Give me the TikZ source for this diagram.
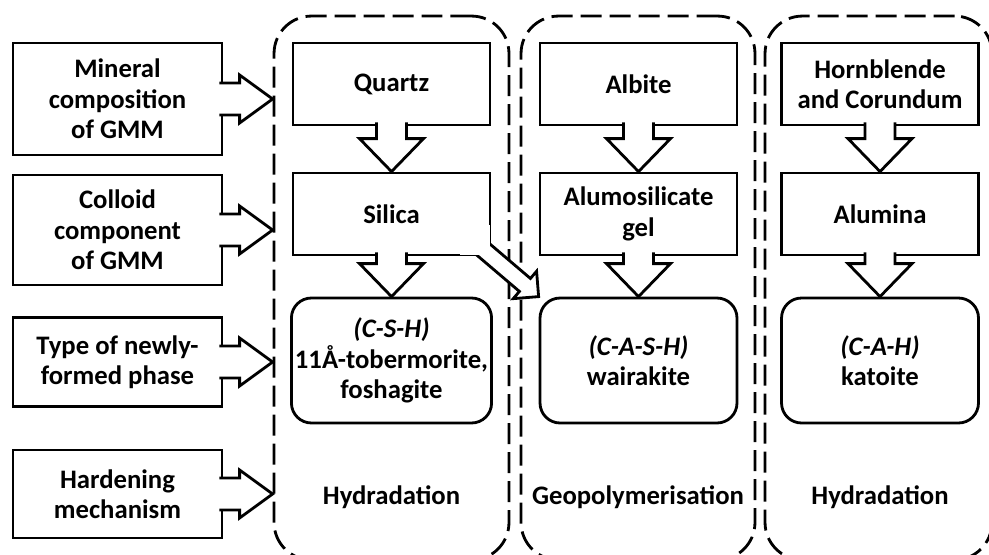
\documentclass[tikz,border=0pt]{standalone}
\usepackage{fontspec}
\setmainfont{Carlito}
\usetikzlibrary{calc}

\newcommand{\gmmfont}{\fontsize{15.2}{17.3}\selectfont\bfseries}
% hollow block arrow: [pull back] from, to, shaft half, head half, head length
\newcommand{\blockarrow}[6][0.08cm]{%
  \coordinate (ba-a) at ($(#2)!-#1!(#3)$);
  \coordinate (ba-c) at ($(#3)!#6!(#2)$);
  \fill[white] ($(ba-a)!#4!90:(#3)$) -- ($(ba-c)!#4!90:(#3)$) -- ($(ba-c)!#5!90:(#3)$) -- (#3)
    -- ($(ba-c)!#5!-90:(#3)$) -- ($(ba-c)!#4!-90:(#3)$) -- ($(ba-a)!#4!-90:(#3)$) -- cycle;
  \draw[arr] ($(ba-a)!#4!90:(#3)$) -- ($(ba-c)!#4!90:(#3)$) -- ($(ba-c)!#5!90:(#3)$) -- (#3)
    -- ($(ba-c)!#5!-90:(#3)$) -- ($(ba-c)!#4!-90:(#3)$) -- ($(ba-a)!#4!-90:(#3)$);
}

\begin{document}
\begin{tikzpicture}[x=0.02cm, y=-0.02cm,
  box/.style={draw, line width=1.6pt, inner sep=2pt, align=center, font=\gmmfont, minimum width=3.94cm, minimum height=1.64cm},
  lbox/.style={box, minimum width=4.18cm},
  phase/.style={box, rounded corners=0.4cm, minimum height=2.5cm},
  region/.style={draw, line width=1.6pt, dash pattern=on 0.42cm off 0.16cm, rounded corners=0.75cm, inner sep=0pt, minimum height=10.88cm},
  arr/.style={line width=1.6pt},
  mech/.style={font=\gmmfont}]
\useasboundingbox (0,0) rectangle (989,554);
\clip (0,0) rectangle (989,554);

% dashed groups
\node[region, minimum width=4.7cm] (hyd1) at (391.5,288) {};
\node[region, minimum width=4.68cm] (geo) at (638,288) {};
\node[region, minimum width=4.54cm] (hyd2) at (878.5,288) {};

% row headers
\node[lbox, minimum height=2.24cm] (mineral) at (117.5,99) {Mineral\\composition\\of GMM};
\node[lbox, minimum height=2.2cm] (colloid) at (117.5,230) {Colloid\\component\\of GMM};
\node[lbox, minimum height=1.78cm] (phase) at (117.5,362) {Type of newly-\\formed phase};
\node[lbox, minimum height=1.76cm] (hardening) at (117.5,494) {Hardening\\mechanism};

% columns
\node[box] (quartz) at (391.5,84) {Quartz};
\node[box] (silica) at (391.5,214) {Silica};
\node[phase] (csh) at (391.5,360.5) {\textit{(C-S-H)}\\11Å-tobermorite,\\foshagite};
\node[box] (albite) at (638.5,84) {Albite};
\node[box] (gel) at (638.5,214) {Alumosilicate\\gel};
\node[phase] (cash) at (638.5,360.5) {\textit{(C-A-S-H)}\\wairakite};
\node[box] (horn) at (880,84) {Hornblende\\and Corundum};
\node[box] (alumina) at (880,214) {Alumina};
\node[phase] (cah) at (880,360.5) {\textit{(C-A-H)}\\katoite};

\node[mech] (lhyd1) at (391.5,497) {Hydradation};
\node[mech] (lgeo) at (638,497) {Geopolymerisation};
\node[mech] (lhyd2) at (880,497) {Hydradation};

% arrows
\foreach \n in {mineral,colloid,phase,hardening} {
  \coordinate (t\n) at (hyd1.west |- \n.east);
  \blockarrow{\n.east}{t\n}{0.32cm}{0.48cm}{0.66cm}
}
\foreach \a/\b in {quartz/silica,silica/csh,albite/gel,gel/cash,horn/alumina,alumina/cah}
  \blockarrow{\a.south}{\b.north}{0.3cm}{0.64cm}{0.66cm};
\blockarrow[0.3cm]{silica.south east}{cash.north west}{0.17cm}{0.36cm}{0.36cm}
\fill[white] ([shift={(-0.9pt,0.9pt)}]silica.south east) rectangle ++(-0.6cm,0.6cm);
\end{tikzpicture}
\end{document}
